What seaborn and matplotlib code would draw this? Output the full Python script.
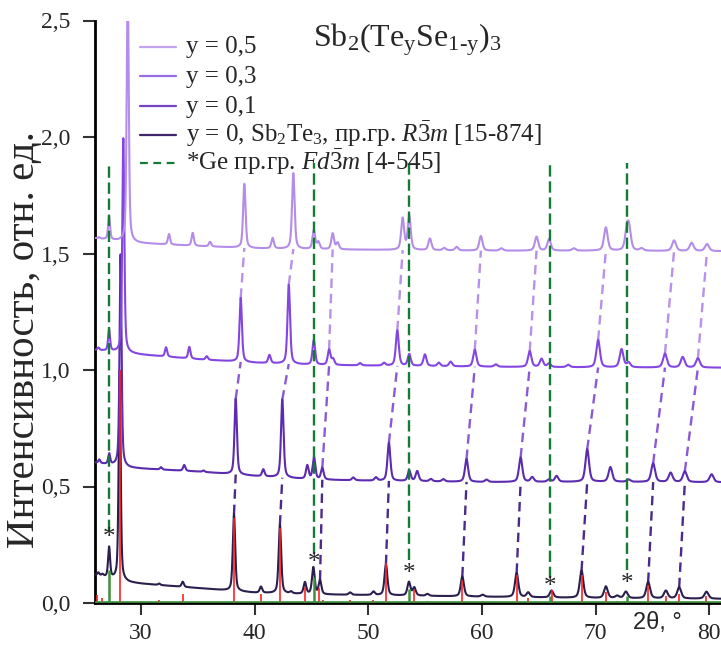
import numpy as np
import pandas as pd
import seaborn as sns
import matplotlib.pyplot as plt
from matplotlib.lines import Line2D
from matplotlib.ticker import FuncFormatter

# ---DATA-----------------------------------------------------------------------
samples = ["y = 0", "y = 0,1", "y = 0,3", "y = 0,5"]
curve_colors = ["#2b1f4e", "#5b2bb0", "#8446e0", "#b48de8"]
legend_colors = ["#3e2668", "#7443c4", "#9a6be4", "#c2a3ee"]

# background of each pattern: anchor points (2theta, intensity)
base_theta = [26, 29, 30, 35, 40, 45, 50, 60, 70, 81]
base_y0 = [0.120, 0.088, 0.083, 0.064, 0.044, 0.037, 0.034, 0.027, 0.021, 0.018]
base_y01 = [0.602, 0.580, 0.577, 0.564, 0.545, 0.530, 0.525, 0.519, 0.520, 0.518]
base_y03 = [1.086, 1.072, 1.066, 1.046, 1.031, 1.022, 1.019, 1.014, 1.011, 1.010]
base_y05 = [1.565, 1.548, 1.544, 1.532, 1.522, 1.518, 1.516, 1.512, 1.512, 1.510]

# reflections: position (2theta) and height above background
pk0_pos = [26.25, 26.6, 27.19, 28.12, 31.6, 33.67, 38.18, 40.55, 42.22, 43.2, 44.42, 45.16,
           45.75, 48.4, 50.45, 51.55, 53.57, 54.04, 55.2, 58.27, 60.06, 63.05, 64.07, 66.12,
           68.76, 70.9, 71.9, 72.66, 74.62, 76.18, 77.35, 79.75]
pk0_h = [0.012, 0.008, 0.13, 0.9, 0.006, 0.022, 0.33, 0.026, 0.295, 0.008, 0.05, 0.115,
         0.06, 0.01, 0.015, 0.133, 0.058, 0.034, 0.008, 0.086, 0.008, 0.104, 0.02, 0.03,
         0.118, 0.05, 0.01, 0.028, 0.07, 0.033, 0.048, 0.03]

pk1_pos = [26.33, 27.2, 28.2, 31.76, 33.8, 35.5, 38.33, 40.76, 42.43, 44.63, 45.22, 45.95,
           48.68, 50.67, 51.81, 53.6, 54.3, 55.5, 56.6, 58.64, 60.4, 63.4, 64.42, 65.9,
           66.56, 69.26, 71.3, 72.9, 75.06, 76.6, 77.85, 80.2]
pk1_h = [0.015, 0.045, 0.91, 0.01, 0.025, 0.006, 0.325, 0.03, 0.335, 0.058, 0.095, 0.05,
         0.012, 0.014, 0.163, 0.045, 0.043, 0.01, 0.01, 0.098, 0.01, 0.105, 0.02, 0.01,
         0.025, 0.14, 0.063, 0.01, 0.08, 0.04, 0.046, 0.034]

pk3_pos = [26.25, 27.19, 28.44, 32.2, 34.25, 35.78, 38.77, 41.3, 43.0, 45.2, 46.55, 46.9,
           49.27, 51.38, 52.55, 53.6, 54.98, 56.2, 57.24, 59.37, 61.22, 64.2, 65.24, 65.9,
           67.58, 70.22, 72.28, 72.9, 76.1, 77.66, 79.0]
pk3_h = [0.01, 0.09, 0.92, 0.04, 0.05, 0.015, 0.275, 0.035, 0.34, 0.105, 0.065, 0.025,
         0.01, 0.012, 0.152, 0.05, 0.05, 0.015, 0.02, 0.073, 0.01, 0.068, 0.035, 0.015,
         0.01, 0.118, 0.078, 0.02, 0.06, 0.045, 0.04]

pk5_pos = [26.3, 27.19, 28.83, 32.46, 34.55, 36.07, 39.09, 41.58, 43.4, 45.2, 45.6, 46.86,
           47.3, 53.02, 53.6, 55.42, 56.68, 57.77, 59.9, 61.7, 64.8, 65.9, 68.08, 70.9,
           72.75, 72.95, 74.04, 76.9, 78.45, 79.8]
pk5_h = [0.005, 0.1, 1.1, 0.045, 0.055, 0.02, 0.275, 0.045, 0.325, 0.08, 0.03, 0.068,
         0.028, 0.135, 0.145, 0.05, 0.01, 0.015, 0.063, 0.01, 0.06, 0.05, 0.01, 0.1,
         0.08, 0.08, 0.01, 0.045, 0.035, 0.03]

# the same reflection followed from y = 0 up to y = 0,5 (dashed connectors)
shift_y0 = [38.18, 42.22, 45.75, 51.55, 58.27, 63.05, 68.76, 74.62, 77.35]
shift_y01 = [38.33, 42.43, 45.95, 51.81, 58.64, 63.4, 69.26, 75.06, 77.85]
shift_y03 = [38.77, 43.0, 46.55, 52.55, 59.37, 64.2, 70.22, 76.1, 79.0]
shift_y05 = [39.09, 43.4, 46.86, 53.02, 59.9, 64.8, 70.9, 76.9, 79.8]

# Sb2Te3 card [15-874]
ref_pos = [26.15, 26.55, 28.12, 31.6, 33.67, 38.18, 40.55, 42.22, 44.42, 45.7, 46.03, 48.35,
           50.4, 51.55, 54.04, 55.2, 58.27, 60.06, 63.05, 64.07, 66.2, 68.76, 70.9, 71.9,
           74.62, 76.18, 77.35, 79.75]
ref_h = [0.035, 0.02, 1.0, 0.015, 0.04, 0.365, 0.04, 0.32, 0.07, 0.063, 0.015, 0.015,
         0.015, 0.17, 0.055, 0.01, 0.10, 0.01, 0.12, 0.02, 0.056, 0.12, 0.048, 0.01,
         0.077, 0.03, 0.04, 0.03]

# Ge card [4-545]
ge_pos = [27.2, 45.18, 53.6, 65.95, 72.8]
ge_h = [0.14, 0.11, 0.06, 0.03, 0.03]
ge_dash_low = [0.31, 0.21, 0.185, 0.107, 0.14]
ge_dash_top = 1.89
star_y = [0.28, 0.17, 0.125, 0.07, 0.08]

legend_labels = ["y = 0,5", "y = 0,3", "y = 0,1",
                 r"y = 0, Sb$_2$Te$_3$, пр.гр. $R\bar{3}m$ [15-874]",
                 r"*Ge пр.гр. $Fd\bar{3}m$ [4-545]"]

# ---BUILD PATTERNS-------------------------------------------------------------
theta = np.arange(25.9, 81.1, 0.01)
bases = [base_y0, base_y01, base_y03, base_y05]
peaks = [(pk0_pos, pk0_h), (pk1_pos, pk1_h), (pk3_pos, pk3_h), (pk5_pos, pk5_h)]


def pattern(t, base, pos, h):
    t = np.atleast_1d(t)
    y = np.interp(t, base_theta, base)
    for p, a in zip(pos, h):
        hw = (0.2 + 0.004 * (p - 26)) / 2
        d = (t - p) / hw
        y = y + a * (0.5 / (1 + d ** 2) + 0.5 * np.exp(-np.log(2) * d ** 2))
    return y


frames = []
for name, base, (pos, h) in zip(samples, bases, peaks):
    frames.append(pd.DataFrame({"theta": theta, "I": pattern(theta, base, pos, h), "sample": name}))
df = pd.concat(frames, ignore_index=True)

# ---PLOT-----------------------------------------------------------------------
sns.set_theme(style="ticks")
plt.rcParams["font.family"] = ["Liberation Serif", "DejaVu Serif"]
plt.rcParams["mathtext.fontset"] = "custom"
plt.rcParams["mathtext.rm"] = "Liberation Serif"
plt.rcParams["mathtext.it"] = "Liberation Serif:italic"

W, H = 721, 648
fig = plt.figure(figsize=(W / 100, H / 100), dpi=100)
ax = fig.add_axes([95 / W, 45 / H, 626 / W, 582.5 / H])

sns.lineplot(data=df, x="theta", y="I", hue="sample", palette=dict(zip(samples, curve_colors)),
             estimator=None, sort=False, legend=False, lw=1.5, ax=ax, zorder=3)

ax.vlines(ref_pos, 0, ref_h, color="#ff2020", lw=1.2, zorder=4)
ax.vlines(ge_pos, 0, ge_h, color="#3c8f3c", lw=1.8, zorder=4)
ax.axhline(0.004, color="#3c8f3c", lw=1.2, zorder=4)

# dashed connectors between shifted reflections
steps = [(shift_y0, shift_y01, 0, 1, "#4a2a8a"),
         (shift_y01, shift_y03, 1, 2, "#8a5ad6"),
         (shift_y03, shift_y05, 2, 3, "#b791ea")]
for low, up, i, j, col in steps:
    for a, b in zip(low, up):
        y_top = pattern(a, bases[i], *peaks[i])[0]
        y_bot = np.interp(b, base_theta, bases[j])
        ax.plot([a, b], [y_top, y_bot], color=col, lw=1.7, ls=(0, (4, 2.5)), zorder=2)

ax.vlines(ge_pos, ge_dash_low, ge_dash_top, color="#157a36", lw=1.7,
          linestyles=[(0, (4.8, 2))], zorder=5)
for x, y in zip(ge_pos, star_y):
    ax.text(x, y, "*", fontsize=18, ha="center", va="center", zorder=6)

ax.set_xlim(25.95, 81.03)
ax.set_ylim(0, 2.5)
ax.set_xticks([30, 40, 50, 60, 70, 80])
ax.set_yticks([0, 0.5, 1.0, 1.5, 2.0, 2.5])
ax.yaxis.set_major_formatter(FuncFormatter(lambda v, _: f"{v:.1f}".replace(".", ",")))
ax.tick_params(axis="both", direction="out", length=8.5, width=1.5, labelsize=17, color="#333333")
ax.tick_params(axis="x", pad=6)
ax.tick_params(axis="y", pad=9)
ax.set_xlabel("")
ax.set_ylabel("")
sns.despine(ax=ax)
for s in ["left", "bottom"]:
    ax.spines[s].set_linewidth(2)
    ax.spines[s].set_color("black")

fig.text(25 / W, 1 - 340 / H, "Интенсивность, отн. ед.", rotation=90,
         fontsize=29.5, ha="center", va="center")
fig.text(657 / W, 1 - 623 / H, "2θ, °", family=["Liberation Sans", "DejaVu Sans"],
         fontsize=17, ha="center", va="center")
fig.text(313 / W, 1 - 40 / H, r"Sb$_2$(Te$_\mathrm{y}$Se$_\mathrm{1‐y}$)$_3$",
         fontsize=23, ha="left", va="center")

# legend rows placed by hand so that every row keeps the same spacing
row_px = [46.7, 76, 106, 135, 163]
handle_styles = [dict(color=c, lw=1.6) for c in legend_colors[::-1]]
handle_styles.append(dict(color="#157a36", lw=1.6, ls=(0, (3.5, 2.5))))
for y_px, lab, st in zip(row_px, legend_labels, handle_styles):
    fig.add_artist(Line2D([140 / W, 176 / W], [1 - y_px / H] * 2, transform=fig.transFigure, **st))
    fig.text(186 / W, 1 - (y_px + 6.6) / H, lab, fontsize=18, ha="left", va="baseline")

fig.savefig("out.png", dpi=100)
